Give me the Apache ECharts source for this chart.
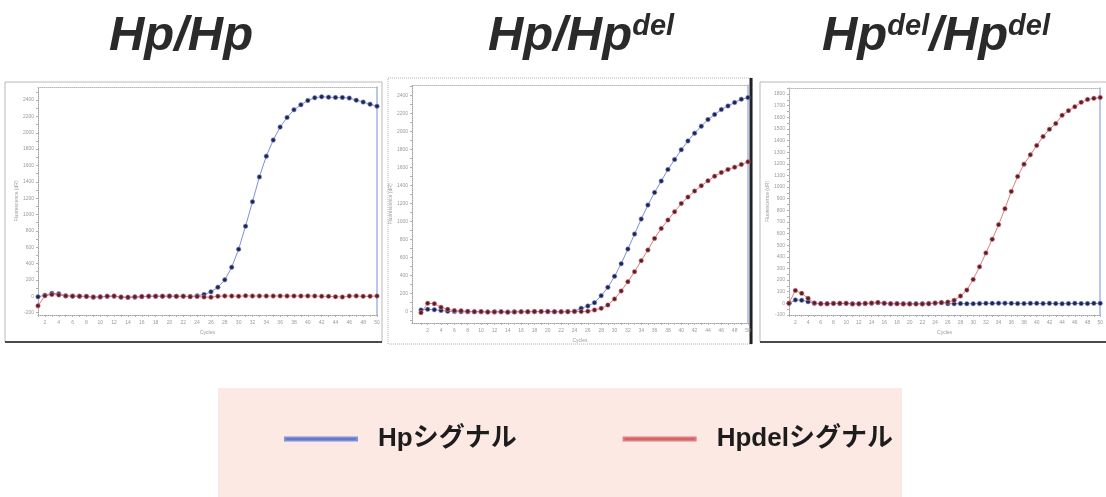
<!DOCTYPE html>
<html>
<head>
<meta charset="utf-8">
<script src="https://cdn.jsdelivr.net/npm/echarts@6/dist/echarts.min.js"></script>
<style>
  html, body { margin: 0; padding: 0; background: #ffffff; }
  #chart { width: 1106px; height: 497px; }
</style>
</head>
<body>
<div id="chart"></div>
<script>
// Amplification cycles (x axis) and the cycles that carry a tick label
const cycles = [1,2,3,4,5,6,7,8,9,10,11,12,13,14,15,16,17,18,19,20,21,22,23,24,25,
                26,27,28,29,30,31,32,33,34,35,36,37,38,39,40,41,42,43,44,45,46,47,48,49,50];
const cycleLabels = [2,4,6,8,10,12,14,16,18,20,22,24,26,28,30,32,34,36,38,40,42,44,46,48,50];

// Genotype titles
const genotypes = ['Hp/Hp', 'Hp/Hpdel', 'Hpdel/Hpdel'];
const seriesNames = ['Hpシグナル', 'Hpdelシグナル'];

// Hp/Hp: fluorescence (dR) per cycle
const hpHpSignal = [-8,12,35,30,5,3,0,-2,-12,-10, -2,0,-12,-15,-12,-6,-2,0,0,0,
  -2,0,-4,5,22,53,110,200,355,575, 857,1155,1460,1714,1910,2069,2187,2281,2342,2395,
  2428,2440,2436,2432,2432,2424,2399,2375,2350,2325];
const hpHpDelSignal = [-118,5,20,15,3,0,0,-3,-10,-8, 0,2,-10,-12,-8,-3,0,0,0,2,
  -2,0,-6,-4,-10,-12,0,3,2,0, 5,2,3,2,2,4,2,3,2,4,
  2,0,-2,-6,-10,2,4,-2,0,2];

// Hp/Hpdel
const hetHpSignal = [15,22,18,10,0,-3,-5,-6,-4,-6, -8,-5,-6,-8,-5,-4,-5,-4,-3,-4,
  -5,-5,-3,0,33,59,96,174,266,389, 529,692,858,1025,1180,1321,1447,1576,1687,1795,
  1894,1980,2057,2131,2187,2242,2283,2320,2357,2375];
const hetDelSignal = [-15,89,85,44,22,8,5,0,-5,-3, -8,-8,-5,-10,-8,-5,-5,-3,-3,-2,
  -5,-5,-5,-2,-3,0,15,33,70,137, 226,329,440,562,681,810,921,1014,1106,1199,
  1269,1336,1395,1450,1502,1543,1576,1602,1632,1661];

// Hpdel/Hpdel
const delHpSignal = [0,30,27,14,0,-2,-3,0,-2,0, -3,-5,-3,0,5,2,-3,-2,-3,-3,
  -3,-3,-2,2,8,-3,-3,-2,-3,-3, -2,0,0,2,2,0,-2,-2,0,0,
  -2,0,-2,-3,-2,0,-2,-2,0,0];
const delDelSignal = [0,111,86,43,3,-3,-3,-2,0,0, -5,-3,0,3,8,0,-3,-3,-5,-5,
  -5,-5,-3,3,6,11,26,63,114,206, 314,434,551,677,814,963,1091,1197,1277,1357,
  1434,1497,1546,1617,1657,1691,1729,1754,1763,1771];

// Y tick labels and minor ticks per panel
const yLabels1 = [-200,0,200,400,600,800,1000,1200,1400,1600,1800,2000,2200,2400];
const yTicks1  = [-200,-100,0,100,200,300,400,500,600,700,800,900,1000,1100,1200,1300,1400,1500,1600,1700,1800,1900,2000,2100,2200,2300,2400,2500];
const yLabels2 = [0,200,400,600,800,1000,1200,1400,1600,1800,2000,2200,2400];
const yTicks2  = [-100,0,100,200,300,400,500,600,700,800,900,1000,1100,1200,1300,1400,1500,1600,1700,1800,1900,2000,2100,2200,2300,2400,2500];
const yLabels3 = [-100,0,100,200,300,400,500,600,700,800,900,1000,1100,1200,1300,1400,1500,1600,1700,1800];
const yTicks3  = [-100,-50,0,50,100,150,200,250,300,350,400,450,500,550,600,650,700,750,800,850,900,950,1000,1050,1100,1150,1200,1250,1300,1350,1400,1450,1500,1550,1600,1650,1700,1750,1800,1850];

const panels = [
  { hp: hpHpSignal, del: hpHpDelSignal, grid: { left: 38, top: 87, width: 339, height: 228 },
    xMin: 1, xMax: 50, yMin: -230, yMax: 2560, yLabels: yLabels1, yTicks: yTicks1 },
  { hp: hetHpSignal, del: hetDelSignal, grid: { left: 412, top: 85, width: 336, height: 238 },
    xMin: -0.35, xMax: 50, yMin: -130, yMax: 2515, yLabels: yLabels2, yTicks: yTicks2 },
  { hp: delHpSignal, del: delDelSignal, grid: { left: 789, top: 88, width: 315, height: 227 },
    xMin: 1, xMax: 50, yMin: -100, yMax: 1852, yLabels: yLabels3, yTicks: yTicks3 }
];

const HP_LINE = '#7f90d8', HP_DOT = '#1f2650';
const DEL_LINE = '#e07c82', DEL_DOT = '#5b1f2b';
const AXIS_GREY = '#a0a0a0';
const tinyText = { fontSize: 5, color: '#9a9a9a', fontFamily: 'Liberation Sans' };
const plainNumber = v => String(v);

const grids = [], xAxes = [], yAxes = [], series = [];
panels.forEach((p, i) => {
  grids.push(Object.assign({ containLabel: false }, p.grid));
  // bottom cycle axis
  xAxes.push({
    type: 'value', gridIndex: i, min: p.xMin, max: p.xMax,
    name: 'Cycles', nameLocation: 'middle', nameGap: 15, nameTextStyle: tinyText,
    axisLine: { show: true, onZero: false, lineStyle: { color: AXIS_GREY, type: 'dotted' } },
    axisTick: { show: true, customValues: cycles, length: 2, lineStyle: { color: '#b0b0b0' } },
    axisLabel: Object.assign({ customValues: cycleLabels, margin: 5, formatter: plainNumber }, tinyText),
    splitLine: { show: false }
  });
  // top frame edge
  xAxes.push({
    type: 'value', gridIndex: i, min: p.xMin, max: p.xMax, position: 'top',
    axisLine: { show: true, onZero: false, lineStyle: { color: '#b8b8b8', type: 'dotted' } },
    axisTick: { show: false }, axisLabel: { show: false }, splitLine: { show: false }
  });
  // fluorescence axis
  yAxes.push({
    type: 'value', gridIndex: i, min: p.yMin, max: p.yMax,
    name: 'Fluorescence (dR)', nameLocation: 'middle', nameGap: 14, nameTextStyle: tinyText,
    axisLine: { show: true, onZero: false, lineStyle: { color: AXIS_GREY, type: 'dotted' } },
    axisTick: { show: true, customValues: p.yTicks, length: 2, lineStyle: { color: '#b0b0b0' } },
    axisLabel: Object.assign({ customValues: p.yLabels, margin: 4, formatter: plainNumber }, tinyText),
    splitLine: { show: false }
  });
  // right frame edge
  yAxes.push({
    type: 'value', gridIndex: i, min: p.yMin, max: p.yMax, position: 'right',
    axisLine: { show: true, onZero: false, lineStyle: { color: '#9fb6e6', width: 1.5 } },
    axisTick: { show: false }, axisLabel: { show: false }, splitLine: { show: false }
  });
  const mk = (name, values, lineColor, dotColor) => ({
    type: 'line', name: name, xAxisIndex: i * 2, yAxisIndex: i * 2,
    data: cycles.map((c, k) => [c, values[k]]),
    symbol: 'circle', symbolSize: 4.5, showSymbol: true,
    lineStyle: { color: lineColor, width: 1 },
    itemStyle: { color: dotColor, borderColor: lineColor, borderWidth: 0.6 },
    emphasis: { disabled: true }, silent: true
  });
  series.push(mk(seriesNames[0], p.hp, HP_LINE, HP_DOT));
  series.push(mk(seriesNames[1], p.del, DEL_LINE, DEL_DOT));
});

// Title text with superscript "del"
const titleRich = {
  m: { fontSize: 49, fontWeight: 'bold', fontStyle: 'italic', fontFamily: 'Liberation Sans', fill: '#2a2a2a', color: '#2a2a2a' },
  s: { fontSize: 29, fontWeight: 'bold', fontStyle: 'italic', fontFamily: 'Liberation Sans', fill: '#2a2a2a', color: '#2a2a2a', verticalAlign: 'top' }
};
const richTitle = t => t.split('del').map((part, k, arr) =>
  (part ? '{m|' + part + '}' : '') + (k < arr.length - 1 ? '{s|del}' : '')).join('');
const titleCenters = [181, 581, 936];

const graphics = [
  // panel frames
  { type: 'rect', shape: { x: 5, y: 82, width: 377, height: 260 }, style: { fill: 'none', stroke: '#b8b8b8', lineWidth: 1 }, z: -5 },
  { type: 'line', shape: { x1: 5, y1: 342, x2: 382, y2: 342 }, style: { stroke: '#4a4a4a', lineWidth: 2 }, z: -5 },
  { type: 'rect', shape: { x: 388, y: 78, width: 364, height: 266 }, style: { fill: 'none', stroke: '#b0b0b0', lineWidth: 1, lineDash: [1, 1] }, z: -5 },
  { type: 'line', shape: { x1: 751, y1: 78, x2: 751, y2: 344 }, style: { stroke: '#222', lineWidth: 3 }, z: -5 },
  { type: 'rect', shape: { x: 760, y: 82, width: 352, height: 260 }, style: { fill: 'none', stroke: '#b8b8b8', lineWidth: 1 }, z: -5 },
  { type: 'line', shape: { x1: 760, y1: 342, x2: 1106, y2: 342 }, style: { stroke: '#4a4a4a', lineWidth: 2 }, z: -5 },
  // legend panel
  { type: 'rect', shape: { x: 218, y: 388, width: 684, height: 112 }, style: { fill: '#fce9e4' }, z: -10 }
];
genotypes.forEach((g, i) => {
  graphics.push({
    type: 'text', x: titleCenters[i], y: 12, z: 10,
    style: { text: richTitle(g), rich: titleRich, align: 'center', verticalAlign: 'top' }
  });
});

const chart = echarts.init(document.getElementById('chart'), null, { renderer: 'canvas' });
chart.setOption({
  animation: false,
  backgroundColor: '#ffffff',
  grid: grids,
  xAxis: xAxes,
  yAxis: yAxes,
  series: series,
  graphic: graphics,
  legend: {
    left: 279, top: 421,
    icon: 'rect', itemWidth: 72, itemHeight: 3, itemGap: 106,
    selectedMode: false,
    data: [
      { name: seriesNames[0], itemStyle: { color: '#4f62c2' } },
      { name: seriesNames[1], itemStyle: { color: '#c0504d' } }
    ],
    textStyle: {
      fontSize: 26, fontWeight: 'bold', color: '#1c1c1c',
      fontFamily: '"Liberation Sans", "Noto Sans CJK JP", sans-serif',
      padding: [0, 0, 0, 16]
    }
  }
});
</script>
</body>
</html>
